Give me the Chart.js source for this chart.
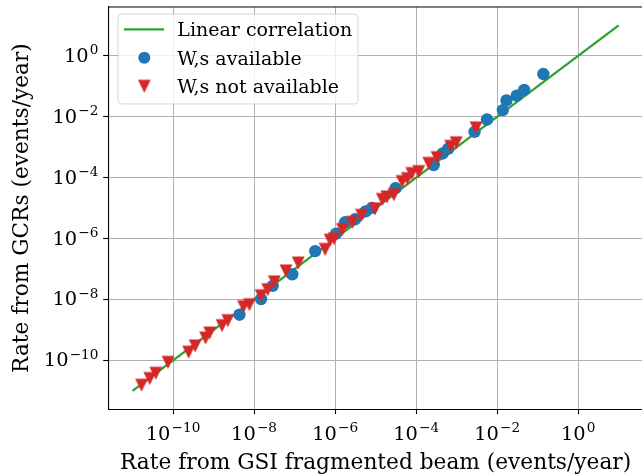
<!DOCTYPE html>
<html><head><meta charset="utf-8">
<script src="https://cdn.jsdelivr.net/npm/chart.js@4.4.1/dist/chart.umd.min.js"></script>
<style>html,body{margin:0;padding:0;overflow:hidden;background:#fff;width:642px;height:475px}canvas{display:block}</style>
</head><body>
<canvas id="c" width="650" height="475" style="width:650px;height:475px"></canvas>
<script>
// ---- data ----
const seriesLabels = ['Linear correlation', 'W,s available', 'W,s not available'];
const xTitle = 'Rate from GSI fragmented beam (events/year)';
const yTitle = 'Rate from GCRs (events/year)';
const tickExponents = [-10, -8, -6, -4, -2, 0];

const lineX = [1e-11, 10];
const lineY = [1e-11, 10];

const availX = [4.37e-9, 1.49e-8, 2.88e-8, 8.77e-8, 3.23e-7, 1.06e-6, 1.76e-6, 3.10e-6, 5.69e-6, 8.13e-6,
  3.11e-5, 2.72e-4, 4.53e-4, 6.18e-4, 2.77e-3, 5.62e-3, 1.38e-2, 1.70e-2, 3.04e-2, 4.65e-2, 0.138];
const availY = [3.16e-9, 1.03e-8, 2.79e-8, 6.71e-8, 3.86e-7, 1.44e-6, 3.40e-6, 4.27e-6, 7.78e-6, 1.01e-5,
  4.47e-5, 2.59e-4, 6.19e-4, 8.81e-4, 3.16e-3, 8.07e-3, 1.64e-2, 3.41e-2, 4.89e-2, 7.50e-2, 0.251];

const notAvailX = [1.67e-11, 2.67e-11, 3.76e-11, 7.53e-11, 2.43e-10, 3.52e-10, 6.37e-10, 7.98e-10, 1.62e-9, 2.25e-9,
  5.47e-9, 7.69e-9, 1.49e-8, 2.17e-8, 3.17e-8, 6.14e-8, 1.23e-7, 5.69e-7, 7.55e-7, 9.46e-7,
  1.51e-6, 2.67e-6, 4.49e-6, 9.64e-6, 1.46e-5, 1.90e-5, 2.82e-5, 4.52e-5, 6.07e-5, 7.83e-5,
  1.16e-4, 2.05e-4, 3.28e-4, 7.13e-4, 9.73e-4, 3.02e-3];
const notAvailY = [1.53e-11, 2.53e-11, 3.77e-11, 8.61e-11, 1.86e-10, 2.97e-10, 5.42e-10, 7.89e-10, 1.38e-9, 2.01e-9,
  5.77e-9, 6.70e-9, 1.32e-8, 2.07e-8, 3.77e-8, 8.59e-8, 1.57e-7, 4.39e-7, 8.81e-7, 9.86e-7,
  1.97e-6, 3.40e-6, 5.75e-6, 9.38e-6, 1.91e-5, 2.31e-5, 2.72e-5, 7.40e-5, 9.27e-5, 1.35e-4,
  1.57e-4, 2.92e-4, 4.48e-4, 1.06e-3, 1.38e-3, 4.27e-3];

const axisMin = 2.512e-12, axisMax = 39.81;

// ---- styles ----
const GREEN = '#2ca02c', BLUE = '#1f77b4', RED = '#d62728';
const FONT = '"DejaVu Serif", "Liberation Serif", serif';
const FS = 19.4, FS_SUP = 13.6, SUP_RAISE = 7.6, FS_TITLE = 21.7, FS_LEG = 19.0;

function triCanvas(size, color) {
  const s = Math.ceil(size) + 3;
  const c = document.createElement('canvas'); c.width = s; c.height = s;
  const g = c.getContext('2d'); const h = size / 2, cx = s / 2, cy = s / 2;
  g.beginPath(); g.moveTo(cx - h, cy - h); g.lineTo(cx + h, cy - h); g.lineTo(cx, cy + h); g.closePath();
  g.fillStyle = color; g.fill();
  return c;
}
const tri = triCanvas(12.8, RED);

const pts = (xs, ys) => xs.map((x, i) => ({ x: x, y: ys[i] }));

function drawPow(ctx, e, x, y, align) {
  const base = '10', exp = (e < 0 ? '\u2212' : '') + Math.abs(e);
  ctx.font = FS + 'px ' + FONT; const wb = ctx.measureText(base).width;
  ctx.font = FS_SUP + 'px ' + FONT; const we = ctx.measureText(exp).width;
  const gap = 1.2, total = wb + gap + we;
  const left = align === 'center' ? x - total / 2 : x - total;
  ctx.textAlign = 'left'; ctx.textBaseline = 'alphabetic'; ctx.fillStyle = '#000';
  ctx.font = FS + 'px ' + FONT; ctx.fillText(base, left, y);
  ctx.font = FS_SUP + 'px ' + FONT; ctx.fillText(exp, left + wb + gap, y - SUP_RAISE);
}

function roundRect(ctx, x, y, w, h, r) {
  ctx.beginPath();
  ctx.moveTo(x + r, y); ctx.lineTo(x + w - r, y); ctx.arcTo(x + w, y, x + w, y + r, r);
  ctx.lineTo(x + w, y + h - r); ctx.arcTo(x + w, y + h, x + w - r, y + h, r);
  ctx.lineTo(x + r, y + h); ctx.arcTo(x, y + h, x, y + h - r, r);
  ctx.lineTo(x, y + r); ctx.arcTo(x, y, x + r, y, r); ctx.closePath();
}

const deco = {
  id: 'deco',
  afterDraw(chart) {
    const ctx = chart.ctx, a = chart.chartArea, xs = chart.scales.x, ys = chart.scales.y;
    ctx.save();
    // top / right spines
    ctx.strokeStyle = '#000'; ctx.lineWidth = 1.1;
    ctx.beginPath(); ctx.moveTo(a.left, a.top); ctx.lineTo(a.right, a.top); ctx.stroke();
    ctx.beginPath(); ctx.moveTo(a.right, a.top); ctx.lineTo(a.right, a.bottom); ctx.stroke();
    // tick labels
    tickExponents.forEach(e => {
      const v = Math.pow(10, e);
      drawPow(ctx, e, xs.getPixelForValue(v), a.bottom + 30.9, 'center');
      drawPow(ctx, e, a.left - 9.8, ys.getPixelForValue(v) + 6, 'right');
    });
    // axis titles
    ctx.fillStyle = '#000'; ctx.font = FS_TITLE + 'px ' + FONT;
    ctx.textAlign = 'center'; ctx.textBaseline = 'alphabetic';
    ctx.fillText(xTitle, (a.left + a.right) / 2, 468.5);
    ctx.save();
    ctx.translate(28, (a.top + a.bottom) / 2); ctx.rotate(-Math.PI / 2);
    ctx.fillText(yTitle, 0, 0);
    ctx.restore();
    // legend
    const lx = 118, ly = 14, lw = 240, lh = 90;
    roundRect(ctx, lx, ly, lw, lh, 4);
    ctx.fillStyle = 'rgba(255,255,255,0.8)'; ctx.fill();
    ctx.strokeStyle = 'rgba(204,204,204,0.8)'; ctx.lineWidth = 1; ctx.stroke();
    const rows = [29.3, 57.8, 86.3];
    ctx.strokeStyle = GREEN; ctx.lineWidth = 2.2;
    ctx.beginPath(); ctx.moveTo(124, rows[0]); ctx.lineTo(164, rows[0]); ctx.stroke();
    ctx.fillStyle = BLUE; ctx.beginPath(); ctx.arc(144.3, rows[1], 6, 0, Math.PI * 2); ctx.fill();
    ctx.drawImage(tri, 144.3 - tri.width / 2, rows[2] - tri.height / 2);
    ctx.fillStyle = '#000'; ctx.font = FS_LEG + 'px ' + FONT; ctx.textAlign = 'left'; ctx.textBaseline = 'alphabetic';
    seriesLabels.forEach((t, i) => ctx.fillText(t, 177.3, rows[i] + 6.7));
    ctx.restore();
  }
};

const gridOpts = { color: '#b0b0b0', lineWidth: 1, tickColor: '#000', tickLength: 5, tickWidth: 1.1, drawTicks: true };
const setTicks = s => { s.ticks = tickExponents.map(e => ({ value: Math.pow(10, e) })); };

new Chart(document.getElementById('c'), {
  type: 'scatter',
  data: {
    datasets: [
      { label: seriesLabels[2], data: pts(notAvailX, notAvailY), pointStyle: tri, pointRadius: 6, order: 1 },
      { label: seriesLabels[1], data: pts(availX, availY), backgroundColor: BLUE, borderColor: BLUE, borderWidth: 0, pointRadius: 6.2, pointStyle: 'circle', order: 2 },
      { label: seriesLabels[0], data: pts(lineX, lineY), showLine: true, borderColor: GREEN, borderWidth: 2.2, pointRadius: 0, order: 3 }
    ]
  },
  options: {
    responsive: false, animation: false, devicePixelRatio: 1,
    layout: { padding: { top: 4.2, right: 4.9, left: 0, bottom: 0 } },
    plugins: { legend: { display: false }, tooltip: { enabled: false } },
    scales: {
      x: { type: 'logarithmic', min: axisMin, max: axisMax, afterBuildTicks: setTicks,
           afterFit: s => { s.height = 65.9; }, ticks: { display: false },
           grid: gridOpts, border: { display: true, color: '#000', width: 1.1 } },
      y: { type: 'logarithmic', min: axisMin, max: axisMax, afterBuildTicks: setTicks,
           afterFit: s => { s.width = 108.2; }, ticks: { display: false },
           grid: gridOpts, border: { display: true, color: '#000', width: 1.1 } }
    }
  },
  plugins: [deco]
});
</script>
</body></html>
